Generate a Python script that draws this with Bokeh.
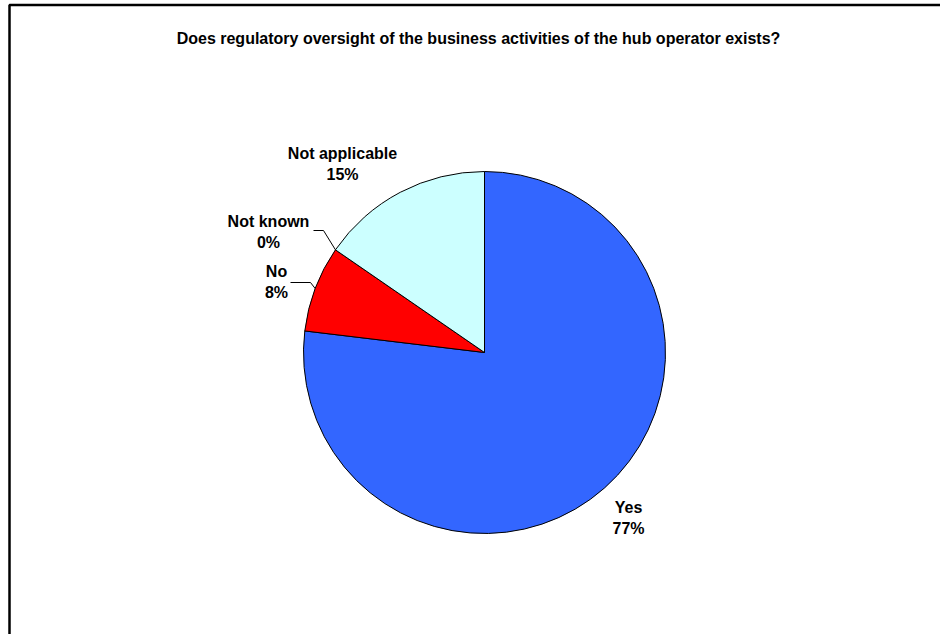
import math
from bokeh.plotting import figure
from bokeh.models import Range1d
from bokeh.core.properties import value
from bokeh.embed import file_html
from bokeh.resources import INLINE

title = "Does regulatory oversight of the business activities of the hub operator exists?"
categories = ["Yes", "No", "Not known", "Not applicable"]
values = [76.9, 7.7, 0.0, 15.4]
pct_labels = ["77%", "8%", "0%", "15%"]
colors = ["#3366FF", "#FF0000", "#FFFF99", "#CCFFFF"]

W, H = 940, 634
FONT = value("Liberation Sans")

p = figure(width=W, height=H, output_backend="svg", toolbar_location=None,
           x_range=Range1d(0, W), y_range=Range1d(0, H), min_border=0,
           outline_line_color=None)
p.axis.visible = False
p.grid.visible = False
p.background_fill_color = "white"
p.border_fill_color = "white"

def sx(x):
    return x

def sy(y):
    return H - y

# frame (left and top edges visible in reference)
p.line(x=[sx(9), sx(9), W + 5], y=[-5, sy(4.5), sy(4.5)], line_color="black", line_width=2.5)

cx, cy, r = sx(484), sy(352), 181

total = sum(values)
cum = 0.0
starts, ends, cols, mids = [], [], [], []
for v, c in zip(values, colors):
    a0 = math.radians(90 - cum / total * 360)
    cum += v
    a1 = math.radians(90 - cum / total * 360)
    mids.append((a0 + a1) / 2)
    if v > 0:
        starts.append(a0); ends.append(a1); cols.append(c)

p.wedge(x=cx, y=cy, radius=r, start_angle=starts, end_angle=ends,
        direction="clock", fill_color=cols, line_color="black", line_width=1)

# label positions (screen coords) per category
label_pos = {"Yes": (628, 507), "No": (276, 271), "Not known": (268, 221),
             "Not applicable": (342, 153)}
for cat, pl in zip(categories, pct_labels):
    lx, ly = label_pos[cat]
    p.text(x=[sx(lx)], y=[sy(ly)], text=[cat], text_align="center",
           text_baseline="middle", text_font=FONT, text_font_style="bold",
           text_font_size="16px", text_color="black")
    p.text(x=[sx(lx)], y=[sy(ly + 21)], text=[pl], text_align="center",
           text_baseline="middle", text_font=FONT, text_font_style="bold",
           text_font_size="16px", text_color="black")

# leader lines
leaders = {"Not known": [(323, 230), (313, 230)], "No": [(310, 282), (290, 282)]}
for cat, pts in leaders.items():
    i = categories.index(cat)
    ang = mids[i]
    ex, ey = cx + r * math.cos(ang), cy + r * math.sin(ang)
    xs = [ex] + [sx(a) for a, b in pts]
    ys = [ey] + [sy(b) for a, b in pts]
    p.line(x=xs, y=ys, line_color="black", line_width=1)

p.text(x=[sx(478)], y=[sy(38)], text=[title], text_align="center",
       text_baseline="middle", text_font=FONT, text_font_style="bold",
       text_font_size="16px", text_color="black")

open("out.html", "w").write(file_html(p, INLINE))
